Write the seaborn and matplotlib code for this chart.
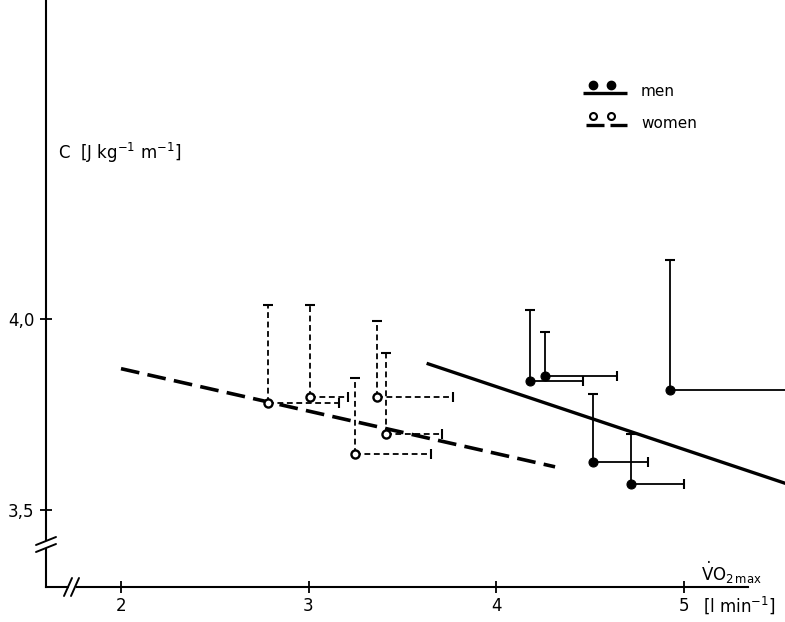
import numpy as np
import pandas as pd
import matplotlib
matplotlib.use("Agg")
import matplotlib.pyplot as plt
import seaborn as sns

# ---------------- data ----------------
men_vo2 = [4.18, 4.26, 4.52, 4.72, 4.93]
men_c = [3.838, 3.852, 3.625, 3.567, 3.814]
men_c_sd = [0.186, 0.114, 0.179, 0.132, 0.340]
men_vo2_sd = [0.286, 0.386, 0.290, 0.284, 0.750]

women_vo2 = [2.786, 3.008, 3.248, 3.364, 3.412]
women_c = [3.779, 3.795, 3.647, 3.797, 3.698]
women_c_sd = [0.258, 0.242, 0.198, 0.199, 0.214]
women_vo2_sd = [0.377, 0.201, 0.405, 0.405, 0.301]

men_fit_vo2 = [3.63, 5.56]
men_fit_c = [3.884, 3.567]
women_fit_vo2 = [2.0, 4.315]
women_fit_c = [3.870, 3.613]

x_ticks = [2, 3, 4, 5]
x_tick_labels = ["2", "3", "4", "5"]
y_ticks = [3.5, 4.0]
y_tick_labels = ["3,5", "4,0"]

# ---------------- style ----------------
sns.set_theme(style="white")
plt.rcParams["font.family"] = ["DejaVu Sans"]
plt.rcParams["mathtext.default"] = "regular"
plt.rcParams["lines.scale_dashes"] = False
plt.rcParams["text.color"] = "black"

W, H = 785, 622
fig = plt.figure(figsize=(W / 100, H / 100), dpi=100)
ax = fig.add_axes([0, 0, 1, 1])
ax.set_facecolor("white")
fig.patch.set_facecolor("white")

# pixel mapping of the reference: x=2 at px 121, 187.5 px/unit; y=4 at py 319, 382 px/unit
def xv(px):
    return 2 + (px - 121) / 187.5

def yv(py):
    return 4 - (py - 319) / 382

ax.set_xlim(xv(0), xv(W))
ax.set_ylim(yv(H), yv(0))

def P(px, py):
    return (px / W, 1 - py / H)

# ---------------- fitted lines ----------------
men_fit = pd.DataFrame({"vo2": men_fit_vo2, "c": men_fit_c})
women_fit = pd.DataFrame({"vo2": women_fit_vo2, "c": women_fit_c})
sns.lineplot(data=men_fit, x="vo2", y="c", ax=ax, color="black", lw=2.4,
             solid_capstyle="butt", zorder=3)
sns.lineplot(data=women_fit, x="vo2", y="c", ax=ax, color="black", lw=2.6,
             dashes=False, zorder=3)
ax.lines[-1].set_linestyle((0, (13.5, 6.0)))
ax.lines[-1].set_dash_capstyle("butt")

# ---------------- error bars (upward SD of C, rightward SD of VO2) ----------------
def draw_err(xs, ys, xe, ye, dashed):
    xs, ys = np.array(xs), np.array(ys)
    z = np.zeros(len(xs))
    cont = ax.errorbar(xs, ys, xerr=[z, xe], yerr=[z, ye], fmt="none",
                       ecolor="black", elinewidth=1.3, capsize=3.4,
                       capthick=1.5, zorder=2)
    _, caps, bars = cont.lines
    for cl in caps:
        xd, yd = cl.get_data()
        if np.allclose(xd, xs) and np.allclose(yd, ys):
            cl.set_visible(False)
    if dashed:
        for b in bars:
            b.set_linestyle((0, (4.2, 2.6)))

draw_err(men_vo2, men_c, men_vo2_sd, men_c_sd, dashed=False)
draw_err(women_vo2, women_c, women_vo2_sd, women_c_sd, dashed=True)

# ---------------- points ----------------
men_df = pd.DataFrame({"vo2": men_vo2, "c": men_c})
women_df = pd.DataFrame({"vo2": women_vo2, "c": women_c})
sns.scatterplot(data=men_df, x="vo2", y="c", ax=ax, color="black", s=42,
                edgecolor="black", linewidth=0.8, zorder=4)
sns.scatterplot(data=women_df, x="vo2", y="c", ax=ax, facecolor="white", s=34,
                edgecolor="black", linewidth=1.7, zorder=4)
ax.set_xlabel("")
ax.set_ylabel("")

# ---------------- axes ----------------
for s in ["top", "right"]:
    ax.spines[s].set_visible(False)
x0, ybase = xv(46), yv(587)
ax.spines["left"].set_position(("data", x0))
ax.spines["bottom"].set_position(("data", ybase))
ax.spines["left"].set_bounds(ybase, yv(0))
ax.spines["bottom"].set_bounds(x0, xv(748))
for s in ["left", "bottom"]:
    ax.spines[s].set_color("black")
    ax.spines[s].set_linewidth(1.5)

ax.set_xticks(x_ticks)
ax.set_xticklabels(x_tick_labels)
ax.set_yticks(y_ticks)
ax.set_yticklabels(y_tick_labels)
ax.tick_params(axis="both", which="major", bottom=True, left=True,
               top=False, right=False, direction="inout", length=9,
               width=1.3, colors="black", labelcolor="black",
               labelsize=12, pad=3)
ax.tick_params(axis="y", pad=4)
ax.grid(False)

# axis breaks
ftr = fig.transFigure
def seg(p1, p2, **kw):
    xs = [P(*p1)[0], P(*p2)[0]]
    ys = [P(*p1)[1], P(*p2)[1]]
    fig.add_artist(plt.Line2D(xs, ys, transform=ftr, **kw))

seg((46, 541), (46, 548), color="white", lw=3, solid_capstyle="butt")
seg((36, 545), (56, 537), color="black", lw=1.4)
seg((36, 552), (56, 544), color="black", lw=1.4)
seg((69, 587), (76, 587), color="white", lw=3, solid_capstyle="butt")
seg((64, 596), (72, 578), color="black", lw=1.4)
seg((71, 596), (79, 578), color="black", lw=1.4)

# ---------------- labels ----------------
ax.text(*P(58, 153), r"C  [J kg$^{-1}$ m$^{-1}$]", transform=ftr,
        fontsize=12, va="center", ha="left", color="black")
ax.text(*P(703, 605), r"[l min$^{-1}$]", transform=ftr,
        fontsize=12, va="center", ha="left", color="black")
ax.text(*P(701, 573), r"$\dot{V}$O$_{2\,max}$", transform=ftr,
        fontsize=12, va="center", ha="left", color="black")

# ---------------- legend ----------------
seg((583, 93), (627, 93), color="black", lw=2.4, solid_capstyle="butt")
seg((586, 125), (604, 125), color="black", lw=2.4, solid_capstyle="butt")
seg((610, 125), (627, 125), color="black", lw=2.4, solid_capstyle="butt")
for px in (593, 611):
    fig.add_artist(plt.Line2D([P(px, 85)[0]], [P(px, 85)[1]], transform=ftr,
                              marker="o", ms=6, color="black", ls="none"))
    fig.add_artist(plt.Line2D([P(px, 116)[0]], [P(px, 116)[1]], transform=ftr,
                              marker="o", ms=5, mfc="white", mec="black",
                              mew=1.5, ls="none"))
ax.text(*P(641, 92), "men", transform=ftr, fontsize=11, va="center",
        ha="left", color="black")
ax.text(*P(641, 123), "women", transform=ftr, fontsize=11, va="center",
        ha="left", color="black")

fig.savefig("out.png", dpi=100, facecolor="white")
